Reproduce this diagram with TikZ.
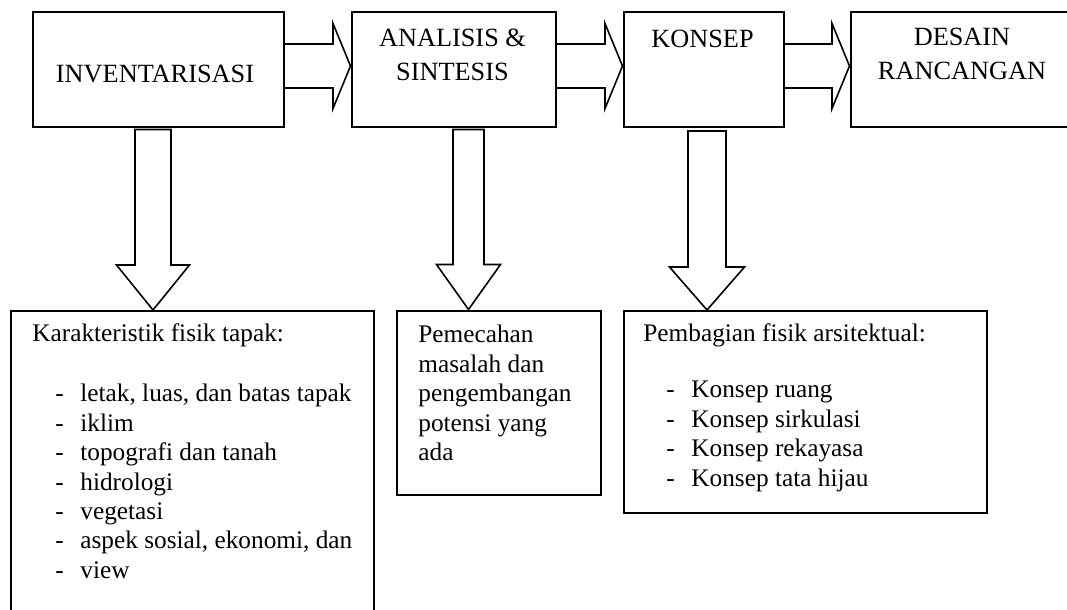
\documentclass[tikz,border=0pt]{standalone}
\usepackage{fontspec}
\setmainfont{Liberation Serif}
\usetikzlibrary{calc}

\newcommand{\butir}[1]{\makebox[24pt][l]{\hspace*{11.5pt}-}#1}

\tikzset{
  kotak/.style={draw, rectangle, line width=1pt, inner sep=0pt, anchor=north west},
  judul/.style={font=\fontsize{13.15}{17}\selectfont, inner sep=0pt, anchor=base, text width=110pt, align=flush center},
  isi/.style={font=\fontsize{12.65}{14.7}\selectfont, inner sep=0pt, anchor=base west, align=flush left},
  panah/.style={draw, line width=0.8pt, line join=miter},
}

\begin{document}
\begin{tikzpicture}[x=0.5pt, y=-0.5pt]
        \useasboundingbox (0,0) rectangle (1067,610);

        % Nodes
        \node[kotak, minimum width=125.5pt, minimum height=57.5pt] at (32, 11)     (inv) {};
        \node[kotak, minimum width=102pt, minimum height=57.5pt]   at (350.5, 11)  (ana) {};
        \node[kotak, minimum width=80pt, minimum height=57.5pt]    at (622.5, 11)  (kon) {};
        \node[kotak, minimum width=112.25pt, minimum height=57.5pt] at (849.5, 11) (des) {};

        \node[kotak, minimum width=181.75pt, minimum height=165pt]  at (9.5, 310)   (kar) {};
        \node[kotak, minimum width=102pt, minimum height=92.25pt]   at (396, 309.5) (pem) {};
        \node[kotak, minimum width=181.75pt, minimum height=101pt]  at (622.5, 310) (pbg) {};

        % Texts
        \node[judul] at (155, 83)   (invt) {INVENTARISASI};
        \node[judul] at (452.5, 47) (anat) {ANALISIS \&\\SINTESIS};
        \node[judul] at (702.5, 48) (kont) {KONSEP};
        \node[judul] at (962, 46)   (dest) {DESAIN\\RANCANGAN};

        \node[isi, text width=170pt] at (32, 342) (kart) {Karakteristik fisik tapak:\\[15.3pt]
            \butir{letak, luas, dan batas tapak}\\
            \butir{iklim}\\
            \butir{topografi dan tanah}\\
            \butir{hidrologi}\\
            \butir{vegetasi}\\
            \butir{aspek sosial, ekonomi, dan}\\
            \butir{view}};
        \node[isi, text width=92pt] at (418, 343) (pemt) {Pemecahan\\masalah dan\\pengembangan\\potensi yang\\ada};
        \node[isi, text width=170pt] at (643, 342) (pbgt) {Pembagian fisik arsitektual:\\[13.3pt]
            \butir{Konsep ruang}\\
            \butir{Konsep sirkulasi}\\
            \butir{Konsep rekayasa}\\
            \butir{Konsep tata hijau}};

        % Block arrows between the stages
        \foreach \a/\b/\n in {inv/ana/1, ana/kon/2, kon/des/3} {
            \coordinate (s\n) at ($(\a.east)+(0,-3.5)$);
            \coordinate (t\n) at (s\n -| \b.west);
            \draw[panah] ($(s\n)+(0,-22)$) -- ($(t\n)+(-17.5,-22)$) -- ($(t\n)+(-17.5,-42.5)$) -- (t\n)
                -- ($(t\n)+(-17.5,42.5)$) -- ($(t\n)+(-17.5,22)$) -- ($(s\n)+(0,22)$);
        }

        % Block arrows down to the details
        \foreach \a/\b/\dx/\dy/\sw/\hw/\hl in {inv/kar/-5.5/1.5/18/36.5/45, ana/pem/15/1.5/15.5/32/45, kon/pbg/3.5/3/19/37.5/43} {
            \coordinate (u\a) at ($(\a.south)+(\dx,\dy)$);
            \coordinate (v\a) at (u\a |- \b.north);
            \draw[panah] ($(u\a)+(-\sw,0)$) -- ($(u\a)+(\sw,0)$) -- ($(v\a)+(\sw,-\hl)$) -- ($(v\a)+(\hw,-\hl)$) -- (v\a)
                -- ($(v\a)+(-\hw,-\hl)$) -- ($(v\a)+(-\sw,-\hl)$) -- cycle;
        }
\end{tikzpicture}
\end{document}
